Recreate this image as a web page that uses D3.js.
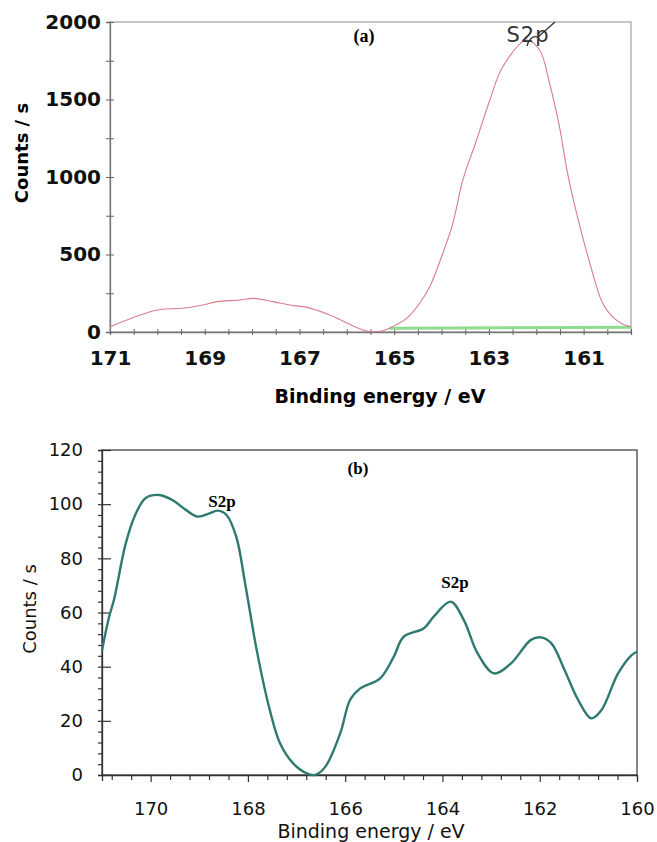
<!DOCTYPE html>
<html>
<head>
<meta charset="utf-8">
<script src="https://cdn.jsdelivr.net/npm/d3@7"></script>
<style>
  body { margin: 0; background: #fff; }
  svg { display: block; }
  text { font-family: "DejaVu Sans", Arial, sans-serif; }
</style>
</head>
<body>
<svg width="657" height="842"></svg>
<script>
// panel (a): S2p survey, counts vs binding energy
const energyA = [171, 170.0, 169.46, 169.04, 168.74, 168.26, 167.98, 167.56, 167.2, 166.84, 166.36,
  165.66, 165.45, 165.24, 165.09, 164.73, 164.46, 164.25, 163.97, 163.76, 163.55, 163.26,
  162.98, 162.71, 162.2, 161.93, 161.72, 161.51, 161.34, 161.15, 160.87, 160.6, 160.39, 160.18, 160];
const countsA = [34, 142, 153, 174, 196, 206, 217, 196, 174, 159, 110,
  13, 2, 8, 26, 90, 187, 292, 510, 703, 981, 1239,
  1497, 1710, 1884, 1819, 1606, 1323, 1025, 768, 445, 187, 97, 52, 34];
const baseEnergyA = [165.1, 160];
const baseCountsA = [24, 31];
const yTicksA = [0, 500, 1000, 1500, 2000];
const xLabelsA = [171, 169, 167, 165, 163, 161];

// panel (b): high resolution S2p
const energyB = [171, 170.86, 170.75, 170.51, 170.3, 170.1, 169.82, 169.55, 169.27, 169.03, 168.79,
  168.62, 168.44, 168.24, 168.05, 167.82, 167.55, 167.34, 167.07, 166.79, 166.62, 166.41,
  166.1, 165.9, 165.69, 165.28, 165.0, 164.8, 164.38, 164.18, 163.83, 163.56, 163.28,
  162.94, 162.59, 162.18, 161.97, 161.76, 161.49, 161.21, 160.94, 160.73, 160.39, 160.11, 160];
const countsB = [46, 58, 65, 85.6, 96.7, 102.3, 103.4, 101.5, 97.8, 95.4, 96.6,
  97.6, 96, 88, 70, 46.2, 24, 11.7, 4.3, 0.6, 0, 3,
  15.5, 27.7, 32, 35.7, 43.7, 51, 54.2, 58.5, 64, 57.2, 45,
  37.5, 41.2, 49.9, 50.8, 48.6, 38.8, 27.7, 20.9, 24, 37.5, 44.3, 45.5];
const yTicksB = [0, 20, 40, 60, 80, 100, 120];
const xLabelsB = [170, 168, 166, 164, 162, 160];

const svg = d3.select("svg");
const serif = "'Liberation Serif', 'Times New Roman', serif";

// ---------- panel (a) ----------
const xA = d3.scaleLinear().domain([171, 160]).range([110, 631]);
const yA = d3.scaleLinear().domain([0, 2000]).range([332, 22]);
const gA = svg.append("g");

gA.append("rect")
  .attr("x", xA(171)).attr("y", yA(2000))
  .attr("width", xA(160) - xA(171)).attr("height", yA(0) - yA(2000))
  .attr("fill", "none").attr("stroke", "#a0a0a0").attr("stroke-width", 1.2);

const axA = gA.append("g").attr("transform", `translate(0,${yA(0)})`)
  .call(d3.axisBottom(xA).tickValues(d3.range(171, 159.9, -0.5)).tickSize(3)
    .tickFormat(d => xLabelsA.includes(d) ? d : ""));
axA.select(".domain").attr("stroke", "#777").attr("stroke-width", 1.3);
axA.selectAll(".tick line").attr("y1", -3).attr("stroke", "#666");
axA.selectAll(".tick text").attr("y", 33).attr("dy", 0)
  .style("font-size", "20px").style("font-weight", "bold").attr("fill", "#111");

const ayA = gA.append("g").attr("transform", `translate(${xA(171)},0)`)
  .call(d3.axisLeft(yA).tickValues(d3.range(0, 2001, 250)).tickSize(4)
    .tickFormat(d => yTicksA.includes(d) ? d : ""));
ayA.select(".domain").attr("stroke", "#777").attr("stroke-width", 1.3);
ayA.selectAll(".tick line").attr("x2", 4).attr("x1", -4).attr("stroke", "#666");
ayA.selectAll(".tick text").attr("x", -9)
  .style("font-size", "20px").style("font-weight", "bold").attr("fill", "#111");

gA.append("path")
  .datum(baseEnergyA.map((e, i) => [e, baseCountsA[i]]))
  .attr("d", d3.line().x(d => xA(d[0])).y(d => yA(d[1])))
  .attr("fill", "none").attr("stroke", "#8fdc8f").attr("stroke-width", 3);

gA.append("path")
  .datum(energyA.map((e, i) => [e, countsA[i]]))
  .attr("d", d3.line().x(d => xA(d[0])).y(d => yA(d[1])).curve(d3.curveCatmullRom))
  .attr("fill", "none").attr("stroke", "#d87c8c").attr("stroke-width", 1.1);

gA.append("text").attr("x", 364).attr("y", 42).attr("text-anchor", "middle")
  .style("font-family", serif).style("font-weight", "bold").style("font-size", "18px").text("(a)");
gA.append("text").attr("x", 528).attr("y", 42).attr("text-anchor", "middle")
  .style("font-size", "21px").style("letter-spacing", "1px").attr("fill", "#333").text("S2p");
gA.append("path").attr("d", "M527,46 Q530,35 538,37 L555,22")
  .attr("fill", "none").attr("stroke", "#333").attr("stroke-width", 1.3);

gA.append("text").attr("x", 380).attr("y", 403).attr("text-anchor", "middle")
  .style("font-size", "19px").style("font-weight", "bold").text("Binding energy / eV");
gA.append("text").attr("transform", "translate(28,153) rotate(-90)").attr("text-anchor", "middle")
  .style("font-size", "18px").style("font-weight", "bold").text("Counts / s");

// ---------- panel (b) ----------
const xB = d3.scaleLinear().domain([171, 160]).range([102, 637]);
const yB = d3.scaleLinear().domain([0, 120]).range([775, 450]);
const gB = svg.append("g");

gB.append("rect")
  .attr("x", xB(171)).attr("y", yB(120))
  .attr("width", xB(160) - xB(171)).attr("height", yB(0) - yB(120))
  .attr("fill", "none").attr("stroke", "#444").attr("stroke-width", 1.3);

const axB = gB.append("g").attr("transform", `translate(0,${yB(0)})`)
  .call(d3.axisBottom(xB).tickValues(d3.range(170.8, 159.9, -0.4).map(v => +v.toFixed(1))).tickSize(6)
    .tickFormat(d => xLabelsB.includes(d) ? d : ""));
axB.select(".domain").attr("stroke", "#333").attr("stroke-width", 1.3);
axB.selectAll(".tick line").attr("stroke", "#333").attr("stroke-width", 1.2)
  .attr("y2", d => xLabelsB.includes(d) ? 7 : 5);
axB.selectAll(".tick text").attr("y", 40).attr("dy", 0)
  .style("font-size", "18px").attr("fill", "#111");

const ayB = gB.append("g").attr("transform", `translate(${xB(171)},0)`)
  .call(d3.axisLeft(yB).tickValues(d3.range(0, 121, 4)).tickSize(4)
    .tickFormat(d => yTicksB.includes(d) ? d : ""));
ayB.select(".domain").attr("stroke", "#333").attr("stroke-width", 1.3);
ayB.selectAll(".tick line").attr("stroke", "#333").attr("stroke-width", 1.2)
  .attr("x1", -4).attr("x2", d => yTicksB.includes(d) ? 9 : 1);
ayB.selectAll(".tick text").attr("x", -19)
  .style("font-size", "18px").attr("fill", "#111");

gB.append("path")
  .datum(energyB.map((e, i) => [e, countsB[i]]))
  .attr("d", d3.line().x(d => xB(d[0])).y(d => yB(d[1])).curve(d3.curveCatmullRom))
  .attr("fill", "none").attr("stroke", "#2e7a70").attr("stroke-width", 2.4);

gB.append("text").attr("x", 358).attr("y", 474).attr("text-anchor", "middle")
  .style("font-family", serif).style("font-weight", "bold").style("font-size", "17px").text("(b)");
gB.append("text").attr("x", 222).attr("y", 507).attr("text-anchor", "middle")
  .style("font-family", serif).style("font-weight", "bold").style("font-size", "17px").text("S2p");
gB.append("text").attr("x", 455).attr("y", 588).attr("text-anchor", "middle")
  .style("font-family", serif).style("font-weight", "bold").style("font-size", "17px").text("S2p");

gB.append("text").attr("x", 371).attr("y", 838).attr("text-anchor", "middle")
  .style("font-size", "19px").attr("fill", "#111").text("Binding energy / eV");
gB.append("text").attr("transform", "translate(36,609) rotate(-90)").attr("text-anchor", "middle")
  .style("font-size", "18px").attr("fill", "#111").text("Counts / s");
</script>
</body>
</html>
